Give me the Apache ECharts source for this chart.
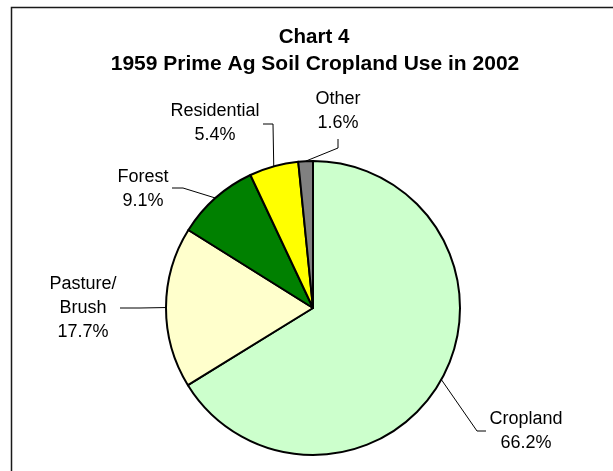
<!DOCTYPE html>
<html>
<head>
<meta charset="utf-8">
<script src="https://cdn.jsdelivr.net/npm/echarts@6/dist/echarts.min.js"></script>
<style>
  html, body { margin: 0; padding: 0; background: #fff; }
  #chart { width: 613px; height: 471px; }
</style>
</head>
<body>
<div id="chart"></div>
<script>
// ---- data ----
const categories = ['Cropland', 'Pasture/\nBrush', 'Forest', 'Residential', 'Other'];
const values = [66.2, 17.7, 9.1, 5.4, 1.6];
const colors = ['#CCFFCC', '#FFFFCC', '#008000', '#FFFF00', '#808080'];
const titleLine1 = 'Chart 4';
const titleLine2 = '1959 Prime Ag Soil Cropland Use in 2002';

// ---- layout (label anchor positions and leader-line bends) ----
const pieCenter = [313, 308];
const pieRadius = 147;
const labelAnchors = [[526, 431], [83, 308], [143, 189], [215, 123], [338, 111]];
const labelBends = [
  [[477, 431], [486, 431]],
  [[140, 308], [120, 308]],
  [[183, 188], [172, 188]],
  [[273, 124], [263, 124]],
  [[338, 148], [338, 139]]
];

function edgePoint(i) {
  const total = values.reduce((a, b) => a + b, 0);
  let before = 0;
  for (let k = 0; k < i; k++) before += values[k];
  const mid = (before + values[i] / 2) / total * Math.PI * 2;
  return [pieCenter[0] + pieRadius * Math.sin(mid), pieCenter[1] - pieRadius * Math.cos(mid)];
}

const chart = echarts.init(document.getElementById('chart'), null, { renderer: 'canvas' });
const FONT = '"Liberation Sans", Arial, Helvetica, sans-serif';

chart.setOption({
  animation: false,
  backgroundColor: '#ffffff',
  graphic: [
    {
      type: 'rect',
      shape: { x: 11.5, y: 7.5, width: 640, height: 500 },
      style: { fill: null, stroke: '#1a1a1a', lineWidth: 1.5 },
      silent: true
    },
    {
      type: 'text',
      style: {
        x: 314, y: 37, text: titleLine1, align: 'center', verticalAlign: 'middle',
        font: 'bold 20.5px ' + FONT, fill: '#000'
      }
    },
    {
      type: 'text',
      style: {
        x: 315, y: 64, text: titleLine2, align: 'center', verticalAlign: 'middle',
        font: 'bold 21px ' + FONT, fill: '#000'
      }
    }
  ],
  series: [{
    type: 'pie',
    center: pieCenter,
    radius: pieRadius,
    startAngle: 90,
    clockwise: true,
    avoidLabelOverlap: false,
    minShowLabelAngle: 0,
    emphasis: { disabled: true },
    itemStyle: { borderColor: '#000', borderWidth: 2 },
    label: {
      show: true,
      position: 'outside',
      color: '#000',
      fontSize: 18,
      lineHeight: 24,
      fontFamily: FONT,
      align: 'center',
      formatter: function (p) {
        return categories[p.dataIndex] + '\n' + values[p.dataIndex].toFixed(1) + '%';
      }
    },
    labelLine: {
      show: true,
      smooth: false,
      lineStyle: { color: '#000', width: 1 }
    },
    labelLayout: function (params) {
      const i = params.dataIndex;
      const e = edgePoint(i);
      return {
        x: labelAnchors[i][0],
        y: labelAnchors[i][1],
        align: 'center',
        verticalAlign: 'middle',
        labelLinePoints: [e, labelBends[i][0], labelBends[i][1]]
      };
    },
    data: categories.map((c, i) => ({
      name: c,
      value: values[i],
      itemStyle: { color: colors[i] }
    }))
  }]
});
</script>
</body>
</html>
